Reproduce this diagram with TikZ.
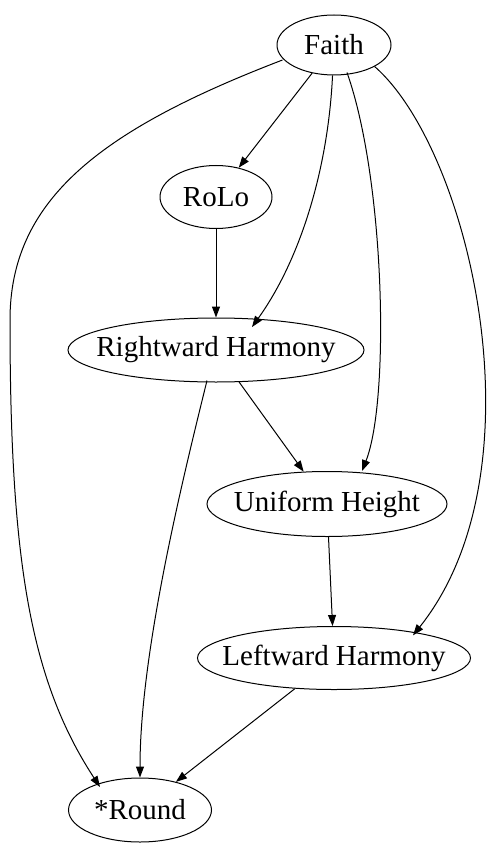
\documentclass[tikz,border=0pt]{standalone}
\usepackage{fontspec}
\setmainfont{Liberation Serif}
\usetikzlibrary{arrows.meta,shapes.geometric}
\newcommand{\zb}[1]{\makebox[0pt]{#1}}
\begin{document}
\begin{tikzpicture}[x=0.5pt,y=-0.5pt,
  nd/.style={draw,ellipse,inner sep=0pt,line width=0.5pt,font=\fontsize{14.5}{16}\selectfont},
  edge/.style={draw,line width=0.5pt,-{Triangle[length=5.5pt,width=4pt]}}]
\useasboundingbox (0,0) rectangle (490,850);
\node[nd,minimum width=57pt,minimum height=30pt] (F) at (334,45) {\zb{Faith}};
\node[nd,minimum width=56pt,minimum height=31.5pt] (RL) at (216,197) {\zb{RoLo}};
\node[nd,minimum width=148pt,minimum height=32pt] (RH) at (216,350) {\zb{Rightward Harmony}};
\node[nd,minimum width=120pt,minimum height=32.5pt] (UH) at (327,504) {\zb{Uniform Height}};
\node[nd,minimum width=136.5pt,minimum height=31.5pt] (LH) at (334,658) {\zb{Leftward Harmony}};
\node[nd,minimum width=71.5pt,minimum height=32pt] (R) at (140,810) {\zb{*Round}};
\draw[edge] (F) -- (RL);
\draw[edge] (F) .. controls (328,170) and (300,260) .. (RH.north east -| 252,0);
\draw[edge] (F.south) ++(13,-3) .. controls (385,180) and (390,400) .. (UH.north -| 362,0);
\draw[edge] (F.south east) .. controls (470,150) and (545,470) .. (LH.north east -| 413,0);
\draw[edge] (F.west) ++(6,15) .. controls (100,130) and (10,200) .. (10,320)
   .. controls (10,560) and (30,680) .. (R.north west -| 100,0);
\draw[edge] (RL) -- (RH);
\draw[edge] (RH.south) ++(-9,-2) .. controls (185,470) and (140,650) .. (R.north);
\draw[edge] (RH) -- (UH);
\draw[edge] (UH) -- (LH);
\draw[edge] (LH) -- (R);
\end{tikzpicture}
\end{document}
